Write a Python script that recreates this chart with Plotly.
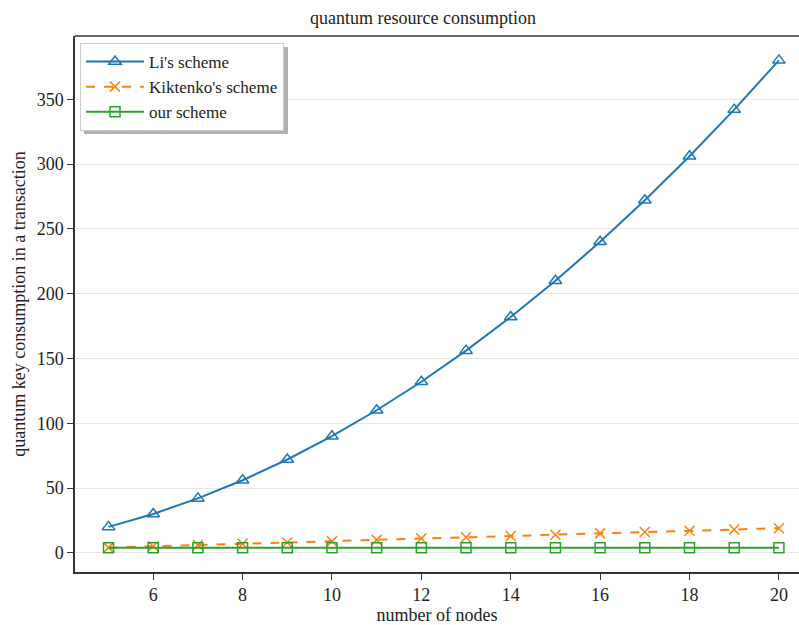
import plotly.graph_objects as go

nodes = list(range(5, 21))
li_scheme = [20, 30, 42, 56, 72, 90, 110, 132, 156, 182, 210, 240, 272, 306, 342, 380]
kiktenko_scheme = [4, 5, 6, 7, 8, 9, 10, 11, 12, 13, 14, 15, 16, 17, 18, 19]
our_scheme = [4] * 16

W, H = 799, 625
L, R, T, B = 75, 0, 36, 53
FONT = "Liberation Serif"

fig = go.Figure()
fig.add_trace(go.Scatter(x=nodes, y=li_scheme, name="Li's scheme", mode="lines+markers",
                         line=dict(color="#1f77b4", width=2),
                         marker=dict(symbol="triangle-up-open", size=11, color="#1f77b4", line=dict(width=1.5))))
fig.add_trace(go.Scatter(x=nodes, y=kiktenko_scheme, name="Kiktenko's scheme", mode="lines+markers",
                         line=dict(color="#ff7f0e", width=2, dash="dash"),
                         marker=dict(symbol="x-thin-open", size=10, color="#ff7f0e", line=dict(width=1.5, color="#ff7f0e"))))
fig.add_trace(go.Scatter(x=nodes, y=our_scheme, name="our scheme", mode="lines+markers",
                         line=dict(color="#2ca02c", width=2),
                         marker=dict(symbol="square-open", size=10, color="#2ca02c", line=dict(width=1.5))))

pw = W - L - R
ph = H - T - B
def px(x): return (x - L) / pw
def py(y): return (H - B - y) / ph

fig.add_shape(type="rect", xref="paper", yref="paper",
              x0=px(84), x1=px(288), y0=py(134), y1=py(47),
              fillcolor="#b0b0b0", line=dict(width=0), layer="above")
fig.add_shape(type="line", xref="paper", yref="paper", x0=0, x1=1, y0=1, y1=1,
              line=dict(color="#333333", width=1.5))

fig.update_layout(
    width=W, height=H,
    margin=dict(l=L, r=R, t=T, b=B, autoexpand=False),
    paper_bgcolor="white", plot_bgcolor="white",
    font=dict(family=FONT, color="#222222", size=18),
    title=dict(text="quantum resource consumption", x=423 / W,
               xanchor="center", y=1 - 18 / H, yanchor="middle", font=dict(size=18, family=FONT)),
    xaxis=dict(range=[4.25, 20.45], tickvals=[6, 8, 10, 12, 14, 16, 18, 20], showgrid=False,
               showline=True, linecolor="#333333", linewidth=1.5, ticks="outside", ticklen=6,
               tickcolor="#333333", zeroline=False, automargin=False,
               title=dict(text="number of nodes", standoff=6, font=dict(size=18))),
    yaxis=dict(range=[-14.8, 398.8], tickvals=[0, 50, 100, 150, 200, 250, 300, 350],
               showgrid=True, gridcolor="#e6e6e6", gridwidth=1,
               showline=True, linecolor="#333333", linewidth=1.5, ticks="outside", ticklen=6,
               tickcolor="#333333", zeroline=False, automargin=False,
               title=dict(text="quantum key consumption in a transaction", standoff=6, font=dict(size=18))),
    legend=dict(x=px(80), y=py(43), xanchor="left", yanchor="top",
                bgcolor="white", bordercolor="#cccccc", borderwidth=1,
                font=dict(size=17, family=FONT), tracegroupgap=0, itemwidth=58),
    showlegend=True,
)

fig.write_html("out.html", config={"displayModeBar": False},
               post_script="document.body.style.margin='0';document.body.style.overflow='hidden';")
